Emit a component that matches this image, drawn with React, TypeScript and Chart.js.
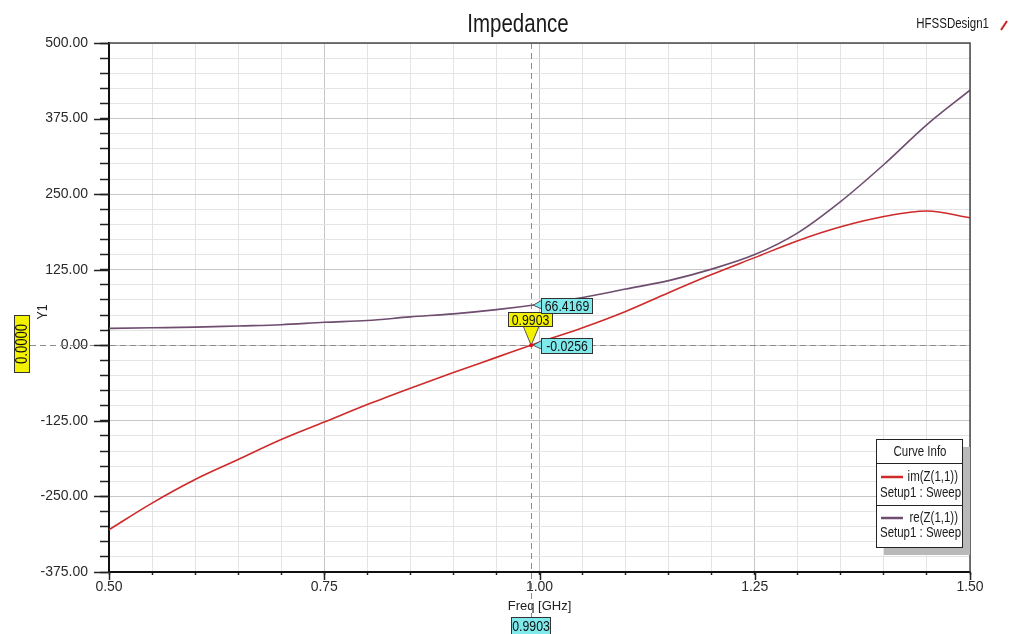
import React, { useEffect, useRef } from 'react';
import { Chart, registerables } from 'chart.js';

Chart.register(...registerables);

// ---- data ----
const freqGHz = [0.5, 0.55, 0.6, 0.65, 0.7, 0.75, 0.8, 0.85, 0.9, 0.95, 1.0, 1.05, 1.1, 1.15, 1.2, 1.25, 1.3, 1.35, 1.4, 1.45, 1.5];
const imZ11 = [-305, -261, -222, -189, -156, -127, -98, -71, -45, -20, 5, 29, 56, 87, 117, 145, 173, 196, 213, 222, 211];
const reZ11 = [28, 29, 30, 32, 34, 38, 41, 47, 52, 59, 68, 79, 93, 107, 126, 150, 186, 238, 299, 365, 422];

const markerFreq = 0.9903;
const markerIm = -0.0256;
const markerRe = 66.4169;
const markerY = 0.0;

const yMin = -375;
const yMax = 500;
const yMinorStep = 25;
const yMajorStep = 125;
const xMin = 0.5;
const xMax = 1.5;
const xMinorStep = 0.05;
const xMajorStep = 0.25;

const chartTitle = 'Impedance';
const designName = 'HFSSDesign1';
const xTitle = 'Freq [GHz]';
const yTitle = 'Y1';
const seriesNames = ['im(Z(1,1))', 're(Z(1,1))'];
const sweepName = 'Setup1 : Sweep';

const RED = '#cf2a2a';
const PURPLE = '#6f4d6f';
const SANS = '"Liberation Sans", Arial, sans-serif';
const SQUEEZE = 0.82;

const isMajor = (v: number, step: number) => Math.abs(v / step - Math.round(v / step)) < 1e-6;

// narrow text: Liberation Sans squeezed horizontally (Arial Narrow look)
function narrowText(
  ctx: CanvasRenderingContext2D,
  text: string,
  x: number,
  y: number,
  size: number,
  align: CanvasTextAlign = 'left',
  color = '#1a1a1a'
) {
  ctx.save();
  ctx.translate(x, y);
  ctx.scale(SQUEEZE, 1);
  ctx.font = `${size}px ${SANS}`;
  ctx.textAlign = align;
  ctx.textBaseline = 'middle';
  ctx.fillStyle = color;
  ctx.fillText(text, 0, 0);
  ctx.restore();
}

function drawBox(ctx: CanvasRenderingContext2D, text: string, x: number, y: number, w: number, h: number, fill: string, size = 15) {
  ctx.fillStyle = fill;
  ctx.fillRect(x, y, w, h);
  ctx.strokeStyle = '#333';
  ctx.lineWidth = 1;
  ctx.strokeRect(x + 0.5, y + 0.5, w - 1, h - 1);
  narrowText(ctx, text, x + w / 2, y + h / 2 + 1, size, 'center', '#111');
}

const hfssPlugin = {
  id: 'hfss',
  beforeDatasetsDraw(chart: any) {
    const { ctx, chartArea: a, scales } = chart;
    const x = scales.x;
    const y = scales.y;
    ctx.save();
    ctx.setLineDash([6, 4]);
    ctx.strokeStyle = '#8c8c8c';
    ctx.lineWidth = 1;
    const mx = Math.round(x.getPixelForValue(markerFreq)) + 0.5;
    ctx.beginPath();
    ctx.moveTo(mx, a.top);
    ctx.lineTo(mx, 618);
    ctx.stroke();
    const my = Math.round(y.getPixelForValue(markerY)) + 0.5;
    ctx.beginPath();
    ctx.moveTo(30, my);
    ctx.lineTo(a.right, my);
    ctx.stroke();
    ctx.restore();
  },
  afterDraw(chart: any) {
    const { ctx, chartArea: a, scales } = chart;
    const x = scales.x;
    const y = scales.y;
    ctx.save();

    // frame top / right
    ctx.strokeStyle = '#4a4a4a';
    ctx.lineWidth = 1.5;
    ctx.beginPath();
    ctx.moveTo(a.left, a.top);
    ctx.lineTo(a.right, a.top);
    ctx.lineTo(a.right, a.bottom);
    ctx.stroke();

    // major tick extensions
    ctx.strokeStyle = '#222';
    ctx.lineWidth = 1.5;
    for (let v = yMin; v <= yMax; v += yMajorStep) {
      const py = Math.round(y.getPixelForValue(v)) + 0.5;
      ctx.beginPath();
      ctx.moveTo(a.left - 15, py);
      ctx.lineTo(a.left, py);
      ctx.stroke();
    }
    for (let i = 0; i <= Math.round((xMax - xMin) / xMajorStep); i++) {
      const v = xMin + i * xMajorStep;
      const px = Math.round(x.getPixelForValue(v)) + 0.5;
      ctx.beginPath();
      ctx.moveTo(px, a.bottom);
      ctx.lineTo(px, a.bottom + 8);
      ctx.stroke();
    }

    // title & design name
    narrowText(ctx, chartTitle, 518, 25, 25, 'center', '#1a1a1a');
    narrowText(ctx, designName, 989, 24, 14, 'right', '#1a1a1a');
    ctx.strokeStyle = '#d02020';
    ctx.lineWidth = 2;
    ctx.beginPath();
    ctx.moveTo(1001, 30);
    ctx.lineTo(1007, 21);
    ctx.stroke();

    // Y1 title (rotated)
    ctx.save();
    ctx.translate(43, 312);
    ctx.rotate(-Math.PI / 2);
    narrowText(ctx, yTitle, 0, 0, 15, 'center', '#222');
    ctx.restore();

    // yellow rotated y-marker label
    ctx.save();
    ctx.translate(22, 344);
    ctx.rotate(-Math.PI / 2);
    drawBox(ctx, markerY.toFixed(4), -29, -8, 58, 16, '#f2f200', 16);
    ctx.restore();

    // marker points
    const mx = x.getPixelForValue(markerFreq);
    const myIm = y.getPixelForValue(markerIm);
    const myRe = y.getPixelForValue(markerRe);

    // yellow freq label with pointer
    ctx.fillStyle = '#f2f200';
    ctx.strokeStyle = '#555';
    ctx.lineWidth = 1;
    ctx.beginPath();
    ctx.moveTo(mx - 8, 326);
    ctx.lineTo(mx, myIm);
    ctx.lineTo(mx + 8, 326);
    ctx.closePath();
    ctx.fill();
    ctx.stroke();
    drawBox(ctx, markerFreq.toFixed(4), 508, 312, 45, 15, '#f2f200');

    // cyan value labels with pointers
    const cyan = '#7fe9ec';
    const pointer = (py: number) => {
      ctx.fillStyle = cyan;
      ctx.strokeStyle = '#555';
      ctx.beginPath();
      ctx.moveTo(mx + 2, py);
      ctx.lineTo(542, py - 5);
      ctx.lineTo(542, py + 4);
      ctx.closePath();
      ctx.fill();
      ctx.stroke();
    };
    pointer(myRe);
    drawBox(ctx, markerRe.toFixed(4), 541, Math.round(myRe) - 7, 52, 16, cyan);
    pointer(myIm);
    drawBox(ctx, markerIm.toFixed(4), 541, Math.round(myIm) - 7, 52, 16, cyan);
    drawBox(ctx, markerFreq.toFixed(4), 511, 617, 40, 18, cyan);

    // small red dot
    ctx.fillStyle = '#e01010';
    ctx.beginPath();
    ctx.arc(mx, myIm, 2, 0, Math.PI * 2);
    ctx.fill();

    // legend "Curve Info"
    const lx = 876, ly = 439, lw = 86, lh = 108;
    ctx.fillStyle = '#b9b9b9';
    ctx.fillRect(lx + 8, ly + 8, lw, lh);
    ctx.fillStyle = '#fff';
    ctx.fillRect(lx, ly, lw, lh);
    ctx.strokeStyle = '#222';
    ctx.lineWidth = 1;
    ctx.strokeRect(lx + 0.5, ly + 0.5, lw, lh);
    ctx.beginPath();
    ctx.moveTo(lx, 463.5);
    ctx.lineTo(lx + lw, 463.5);
    ctx.moveTo(lx, 505.5);
    ctx.lineTo(lx + lw, 505.5);
    ctx.stroke();
    narrowText(ctx, 'Curve Info', lx + lw / 2 + 1, 452, 14, 'center');
    const entries = [
      { name: seriesNames[0], color: RED, y1: 477, y2: 493 },
      { name: seriesNames[1], color: PURPLE, y1: 518, y2: 533 },
    ];
    entries.forEach((e) => {
      ctx.strokeStyle = e.color;
      ctx.lineWidth = 2.5;
      ctx.beginPath();
      ctx.moveTo(881, e.y1);
      ctx.lineTo(903, e.y1);
      ctx.stroke();
      narrowText(ctx, e.name, 958, e.y1, 14, 'right');
      narrowText(ctx, sweepName, 880, e.y2, 14, 'left');
    });

    ctx.restore();
  },
};

export default function App() {
  const ref = useRef<HTMLCanvasElement>(null);
  useEffect(() => {
    document.body.style.margin = '0';
    const canvas = ref.current!;
    const chart = new Chart(canvas, {
      type: 'line',
      data: {
        datasets: [
          {
            label: seriesNames[0],
            data: freqGHz.map((f, i) => ({ x: f, y: imZ11[i] })),
            borderColor: RED,
            borderWidth: 1.6,
            pointRadius: 0,
            cubicInterpolationMode: 'monotone',
          },
          {
            label: seriesNames[1],
            data: freqGHz.map((f, i) => ({ x: f, y: reZ11[i] })),
            borderColor: PURPLE,
            borderWidth: 1.6,
            pointRadius: 0,
            cubicInterpolationMode: 'monotone',
          },
        ],
      },
      options: {
        responsive: false,
        animation: false,
        devicePixelRatio: 1,
        layout: { padding: { left: 0, top: 43, right: 44, bottom: 0 } },
        plugins: { legend: { display: false }, tooltip: { enabled: false }, title: { display: false } },
        scales: {
          x: {
            type: 'linear',
            min: xMin,
            max: xMax,
            afterFit: (s: any) => {
              s.height = 62;
            },
            border: { color: '#111', width: 2 },
            grid: {
              color: (c: any) => (isMajor(c.tick.value, xMajorStep) ? '#c6c6c6' : '#e4e4e4'),
              lineWidth: 1,
              tickLength: 3,
              tickColor: '#222',
              tickWidth: 1.5,
            },
            ticks: {
              stepSize: xMinorStep,
              autoSkip: false,
              maxRotation: 0,
              padding: 4,
              color: '#2a2a2a',
              font: { family: SANS, size: 14 },
              callback: (v: any) => (isMajor(Number(v), xMajorStep) ? Number(v).toFixed(2) : ''),
            },
            title: {
              display: true,
              text: xTitle,
              color: '#222',
              font: { family: SANS, size: 13 },
              padding: { top: 0, bottom: 20 },
            },
          },
          y: {
            type: 'linear',
            min: yMin,
            max: yMax,
            afterFit: (s: any) => {
              s.width = 109;
            },
            border: { color: '#111', width: 2 },
            grid: {
              color: (c: any) => (isMajor(c.tick.value, yMajorStep) ? '#c6c6c6' : '#e4e4e4'),
              lineWidth: 1,
              tickLength: 9,
              tickColor: '#222',
              tickWidth: 1.5,
            },
            ticks: {
              stepSize: yMinorStep,
              autoSkip: false,
              padding: 12,
              color: '#2a2a2a',
              font: { family: SANS, size: 14 },
              callback: (v: any) => (isMajor(Number(v), yMajorStep) ? Number(v).toFixed(2) : ''),
            },
          },
        },
      },
      plugins: [hfssPlugin],
    } as any);
    return () => chart.destroy();
  }, []);
  return (
    <div style={{ position: 'absolute', left: 0, top: 0, width: 1014, height: 634, background: '#fff' }}>
      <canvas ref={ref} width={1014} height={634} style={{ display: 'block' }} />
    </div>
  );
}
